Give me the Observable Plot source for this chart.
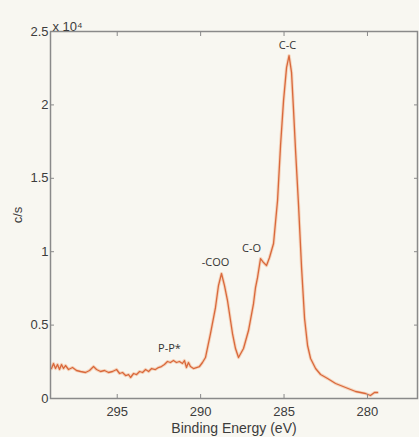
<!DOCTYPE html>
<html>
<head>
<meta charset="utf-8">
<script src="https://cdn.jsdelivr.net/npm/d3@7"></script>
<script src="https://cdn.jsdelivr.net/npm/@observablehq/plot@0.6"></script>
<style>
  html, body { margin: 0; padding: 0; background: #f8f7f1; }
  #chart svg { display: block; }
</style>
</head>
<body>
<div id="chart"></div>
<script>
// Binding energy (eV) and counts (c/s)
const energy = [298.94,298.82,298.70,298.58,298.46,298.34,298.22,298.10,297.92,297.68,297.44,297.20,296.90,296.66,296.42,296.24,296.00,295.76,295.52,295.28,295.04,294.86,294.68,294.50,294.32,294.20,294.02,293.84,293.66,293.48,293.30,293.12,292.94,292.71,292.53,292.35,292.17,291.99,291.81,291.63,291.45,291.27,291.09,290.97,290.85,290.73,290.61,290.43,290.25,290.07,289.89,289.71,289.41,289.11,288.93,288.75,288.57,288.39,288.09,287.91,287.73,287.43,287.13,286.83,286.71,286.59,286.41,286.23,286.05,285.87,285.63,285.39,285.21,285.03,284.85,284.70,284.55,284.43,284.31,284.13,283.95,283.77,283.59,283.41,283.11,282.81,282.39,281.91,281.31,280.71,280.12,279.82,279.58,279.40];
const counts = [2040,2384,2043,2315,1975,2315,2043,2247,1975,2111,1907,1839,1771,1907,2179,1975,1839,1907,1771,1839,1975,1703,1771,1566,1634,1430,1703,1634,1839,1771,1975,1839,2043,1975,2111,2179,2315,2520,2452,2588,2452,2520,2384,2588,2111,2452,2179,2043,2111,2179,2452,2792,4427,6197,7695,8513,7695,6674,4427,3405,2792,3405,4631,6470,7559,8240,9534,9262,9057,9602,10556,13484,17229,20294,22541,23358,22200,19613,16889,13143,8921,5448,3609,2724,2043,1634,1362,1022,749,477,341,204,409,409];

// Peak annotations
const peakLabels = ["C-C", "C-O", "-COO", "P-P*"];
const peakEnergy = [284.79, 286.95, 289.11, 291.87];
const peakCounts = [24040, 10215, 9262, 3405];

const xTicks = [295, 290, 285, 280];
const yTicks = [0, 5000, 10000, 15000, 20000, 25000];
const yTickLabels = ["0", "0.5", "1", "1.5", "2", "2.5"];

const spectrum = energy.map((e, i) => ({e, c: counts[i]}));
const peaks = peakLabels.map((t, i) => ({t, e: peakEnergy[i], c: peakCounts[i]}));

const axisColor = "#8a8a8a";
const textColor = "#3c3c3c";

const chart = Plot.plot({
  width: 419,
  height: 437,
  marginLeft: 50,
  marginRight: 2,
  marginTop: 31,
  marginBottom: 39,
  style: {background: "#f8f7f1", fontFamily: "Liberation Sans, Arial, sans-serif", fontSize: "13px", color: textColor},
  x: {domain: [299, 277]},
  y: {domain: [0, 25000]},
  marks: [
    Plot.line(spectrum, {x: "e", y: "c", stroke: "#f3c6a8", strokeWidth: 3.2, strokeOpacity: 0.7}),
    Plot.line(spectrum, {x: "e", y: "c", stroke: "#d9693c", strokeWidth: 1.3}),
    Plot.frame({stroke: axisColor, strokeWidth: 1.5}),
    Plot.axisX({anchor: "bottom", ticks: xTicks, tickSize: -4, tickPadding: 12, stroke: axisColor, fill: textColor, fontSize: 13,
      label: null}),
    Plot.axisX({anchor: "bottom", ticks: [], label: "Binding Energy (eV)", labelAnchor: "center", labelArrow: "none", labelOffset: 34, fontSize: 14, fill: textColor}),
    Plot.axisX({anchor: "top", ticks: xTicks, tickSize: -4, tickFormat: () => "", stroke: axisColor, label: null}),
    Plot.axisY({anchor: "left", ticks: yTicks, tickSize: -4, tickPadding: 6, stroke: axisColor, fill: textColor, fontSize: 13,
      tickFormat: (d) => yTickLabels[yTicks.indexOf(d)],
      label: "c/s", labelAnchor: "center", labelArrow: "none", labelOffset: 38}),
    Plot.axisY({anchor: "right", ticks: yTicks, tickSize: -4, tickFormat: () => "", stroke: axisColor, label: null}),
    Plot.text(["x 10⁴"], {frameAnchor: "top-left", dx: 2, dy: -10, textAnchor: "start", fill: textColor, fontSize: 13}),
    Plot.text(peaks, {x: "e", y: "c", text: "t", fill: "#333", fontSize: 11, fontFamily: "Open Sans, sans-serif"})
  ]
});
document.getElementById("chart").appendChild(chart);
</script>
</body>
</html>
